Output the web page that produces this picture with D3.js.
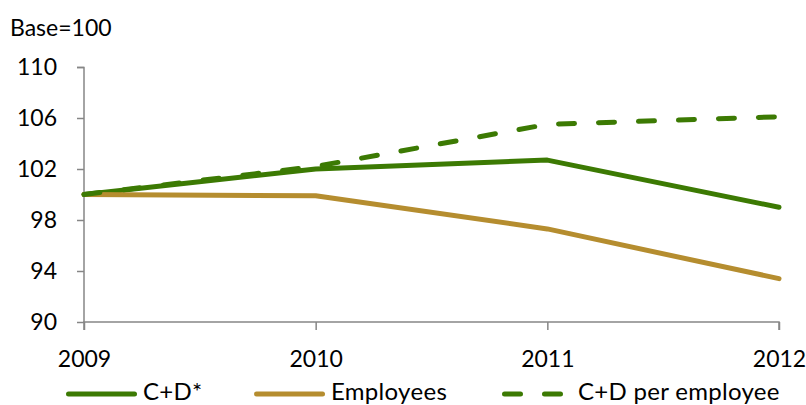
<!DOCTYPE html>
<html>
<head>
<meta charset="utf-8">
<script src="https://cdn.jsdelivr.net/npm/d3@7"></script>
<style>
  body { margin: 0; background: #fff; }
  text { font-family: Lato, "Open Sans", sans-serif; fill: #000; }
</style>
</head>
<body>
<div id="wrapper"></div>
<script>
// data
const years = [2009, 2010, 2011, 2012]
const cdValues = [100, 102.0, 102.7, 99.0]
const employeeValues = [100, 99.9, 97.3, 93.4]
const perEmployeeValues = [100, 102.2, 105.5, 106.1]
const yTicks = [90, 94, 98, 102, 106, 110]

const series = [
  { name: "C+D*", values: cdValues, color: "#3c7a03", dash: null },
  { name: "Employees", values: employeeValues, color: "#b58d2f", dash: null },
  { name: "C+D per employee", values: perEmployeeValues, color: "#3c7a03", dash: "16 24" },
]

function drawChart() {
  let dimensions = {
    width: 806,
    height: 405,
    margin: { top: 67, right: 27, bottom: 83, left: 84 },
  }
  dimensions.boundedWidth = dimensions.width - dimensions.margin.left - dimensions.margin.right
  dimensions.boundedHeight = dimensions.height - dimensions.margin.top - dimensions.margin.bottom

  const wrapper = d3.select("#wrapper")
    .append("svg")
      .attr("width", dimensions.width)
      .attr("height", dimensions.height)

  const bounds = wrapper.append("g")
      .attr("transform", `translate(${dimensions.margin.left},${dimensions.margin.top})`)

  // scales
  const xScale = d3.scalePoint()
    .domain(years)
    .range([0, dimensions.boundedWidth])

  const yScale = d3.scaleLinear()
    .domain([90, 110])
    .range([dimensions.boundedHeight, 0])

  // axes
  const yAxis = bounds.append("g")
    .call(d3.axisLeft(yScale).tickValues(yTicks).tickSize(7).tickPadding(20))
  yAxis.selectAll("path, line").attr("stroke", "#868686").attr("stroke-width", 1.5)
  yAxis.select(".domain").attr("d", `M-7,0.5H0V${dimensions.boundedHeight}`)
  yAxis.selectAll("text").style("font-size", "23px").attr("fill", "#000")

  const xAxis = bounds.append("g")
    .attr("transform", `translate(0,${dimensions.boundedHeight})`)
    .call(d3.axisBottom(xScale).tickSize(8).tickPadding(21).tickFormat(d3.format("d")))
  xAxis.selectAll("path, line").attr("stroke", "#868686").attr("stroke-width", 1.5)
  xAxis.select(".domain").attr("d", `M0,8V0H${dimensions.boundedWidth}V8`)
  xAxis.selectAll("text").style("font-size", "23px").attr("fill", "#000")

  wrapper.append("text")
    .attr("x", 10)
    .attr("y", 36)
    .style("font-size", "23px")
    .text("Base=100")

  // lines
  const lineGenerator = d3.line()
    .x((d, i) => xScale(years[i]))
    .y(d => yScale(d))

  bounds.selectAll(".series")
    .data(series)
    .join("path")
      .attr("class", "series")
      .attr("d", d => lineGenerator(d.values))
      .attr("fill", "none")
      .attr("stroke", d => d.color)
      .attr("stroke-width", 5)
      .attr("stroke-linecap", "round")
      .attr("stroke-linejoin", "round")
      .attr("stroke-dasharray", d => d.dash)

  // legend
  const legendX = [66, 254, 502]
  const legend = wrapper.selectAll(".legend")
    .data(series)
    .join("g")
      .attr("class", "legend")
      .attr("transform", (d, i) => `translate(${legendX[i]},394)`)

  legend.append("line")
    .attr("x1", 2.5)
    .attr("x2", 68.5)
    .attr("stroke", d => d.color)
    .attr("stroke-width", 5)
    .attr("stroke-linecap", "round")
    .attr("stroke-dasharray", d => d.dash)

  legend.append("text")
    .attr("x", (d, i) => i == 2 ? 76 : 77)
    .attr("y", 6)
    .style("font-size", "24px")
    .style("letter-spacing", "0.3px")
    .text(d => d.name)
}

drawChart()
</script>
</body>
</html>
